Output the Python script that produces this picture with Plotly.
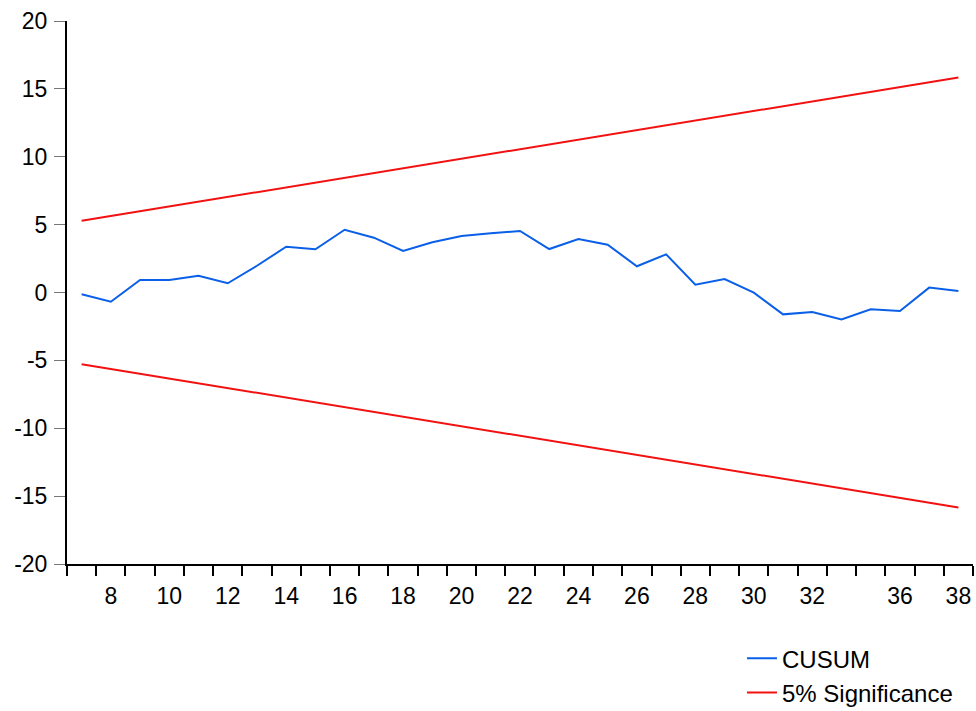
import plotly.graph_objects as go

obs_labels = ["7", "8", "9", "10", "11", "12", "13", "14", "15", "16", "17", "18",
              "19", "20", "21", "22", "23", "24", "25", "26", "27", "28", "29", "30",
              "31", "32", "33", "34", "36", "37", "38"]
cusum = [-0.13, -0.68, 0.92, 0.92, 1.24, 0.68, 1.97, 3.37, 3.18, 4.62, 4.04, 3.06,
         3.70, 4.16, 4.36, 4.53, 3.20, 3.94, 3.52, 1.93, 2.81, 0.57, 0.99, -0.01,
         -1.61, -1.44, -1.98, -1.24, -1.36, 0.36, 0.11]
upper = [5.28, 5.63, 5.98, 6.33, 6.69, 7.04, 7.39, 7.74, 8.09, 8.44, 8.80, 9.15,
         9.50, 9.85, 10.20, 10.56, 10.91, 11.26, 11.61, 11.96, 12.31, 12.67, 13.02,
         13.37, 13.72, 14.07, 14.42, 14.78, 15.13, 15.48, 15.83]
lower = [-v for v in upper]
shown_labels = ["8", "10", "12", "14", "16", "18", "20", "22", "24", "26", "28", "30", "32", "36", "38"]
y_ticks = [-20, -15, -10, -5, 0, 5, 10, 15, 20]
y_ticktext = ["-20", "-15", "-10", "-5", "0", "5", "10", "15", "20"]

x = list(range(len(obs_labels)))
tickvals = [obs_labels.index(s) for s in shown_labels]

blue = "#0a5fe8"
red = "#f21010"

fig = go.Figure()
fig.add_trace(go.Scatter(x=x, y=cusum, mode="lines", name="CUSUM",
                         line=dict(color=blue, width=2)))
fig.add_trace(go.Scatter(x=x, y=upper, mode="lines", name="5% Significance",
                         line=dict(color=red, width=2)))
fig.add_trace(go.Scatter(x=x, y=lower, mode="lines", name="5% Significance",
                         line=dict(color=red, width=2), showlegend=False))

fig.update_layout(
    width=976, height=711,
    margin=dict(l=67, r=3, t=21, b=147, autoexpand=False),
    paper_bgcolor="white", plot_bgcolor="white",
    font=dict(family="Liberation Sans, Arial", size=23, color="black"),
    showlegend=True,
    legend=dict(x=0.745, y=-0.133, xanchor="left", yanchor="top",
                bgcolor="rgba(0,0,0,0)", font=dict(size=24), tracegroupgap=0,
                itemwidth=30),
    xaxis=dict(range=[-0.5, len(x) - 0.5], tickmode="array", tickvals=tickvals,
               ticktext=shown_labels, ticks="outside", ticklen=10,
               tickcolor="rgba(0,0,0,0)",
               showgrid=False, zeroline=False,
               showline=True, linecolor="black", linewidth=2, automargin=False,
               minor=dict(tickmode="array",
                          tickvals=[i - 0.5 for i in range(len(x) + 1)],
                          ticks="outside", ticklen=10, tickwidth=1.5,
                          tickcolor="black", showgrid=False)),
    yaxis=dict(range=[-20, 20], tickmode="array", tickvals=y_ticks,
               ticktext=y_ticktext, automargin=False,
               ticks="outside", ticklen=11, tickwidth=1.2, tickcolor="#777777",
               ticklabelstandoff=2,
               showgrid=False, zeroline=False, showline=True,
               linecolor="black", linewidth=2),
)

fig.write_html("out.html", config={"displayModeBar": False},
               post_script="document.body.style.margin='0px';")
